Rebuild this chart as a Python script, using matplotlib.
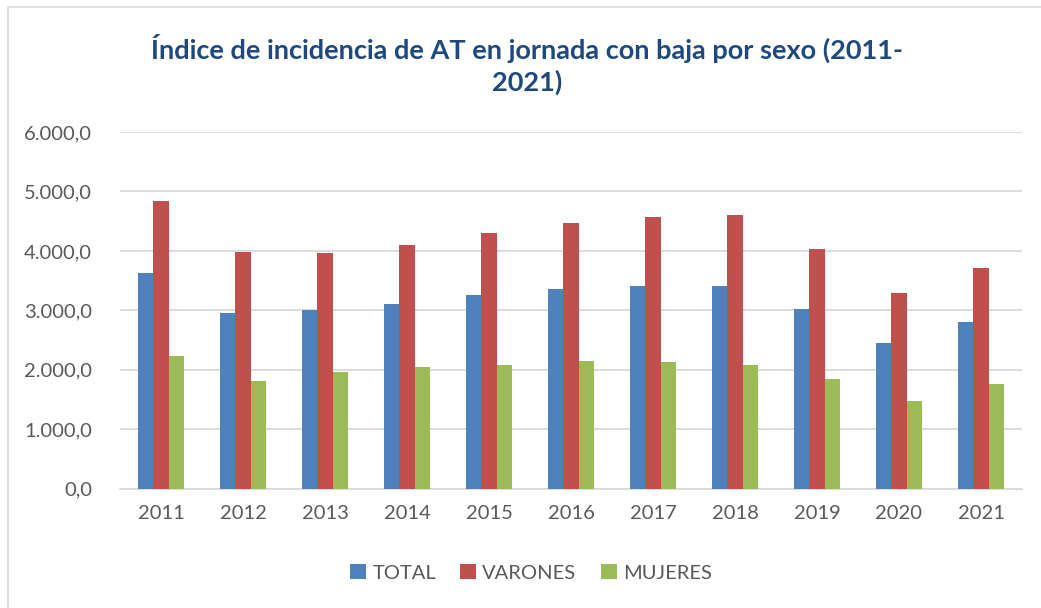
import numpy as np
import matplotlib.pyplot as plt
from matplotlib.patches import Rectangle

years = ['2011', '2012', '2013', '2014', '2015', '2016', '2017', '2018', '2019', '2020', '2021']
total = [3632, 2948, 3004, 3105, 3251, 3358, 3402, 3402, 3016, 2450, 2808]
varones = [4832, 3980, 3963, 4092, 4305, 4462, 4568, 4602, 4025, 3285, 3711]
mujeres = [2225, 1811, 1962, 2040, 2085, 2147, 2130, 2085, 1839, 1474, 1754]
yticks = [0, 1000, 2000, 3000, 4000, 5000, 6000]
ytick_labels = ['0,0', '1.000,0', '2.000,0', '3.000,0', '4.000,0', '5.000,0', '6.000,0']

plt.rcParams['font.family'] = ['Lato', 'DejaVu Sans']
grey = '#595959'

fig = plt.figure(figsize=(10.41, 6.08), dpi=100)
ax = fig.add_axes([0.1153, 0.1962, 0.8664, 0.5867])

# thin frame around the chart (top and left edges visible)
fig.patches.append(Rectangle((8 / 1041, -0.1), 1.2, 1 - 7 / 608 + 0.1,
                             transform=fig.transFigure, fill=False,
                             edgecolor='#d9d9d9', linewidth=1.2))

x = np.arange(len(years))
w = 0.19
ax.bar(x - w, total, w, color='#4F81BD', label='TOTAL', zorder=3)
ax.bar(x, varones, w, color='#C0504D', label='VARONES', zorder=3)
ax.bar(x + w, mujeres, w, color='#9BBB59', label='MUJERES', zorder=3)

ax.set_xlim(-0.5, len(years) - 0.5)
ax.set_ylim(0, 6000)
ax.set_yticks(yticks)
ax.set_yticklabels(ytick_labels)
ax.set_xticks(x)
ax.set_xticklabels(years)
ax.tick_params(axis='y', length=0, pad=20, labelsize=14.5, labelcolor=grey)
ax.tick_params(axis='x', length=0, pad=12, labelsize=14.5, labelcolor=grey)
ax.grid(axis='y', color='#d9d9d9', linewidth=1.3, zorder=0)
for s in ['top', 'right', 'left']:
    ax.spines[s].set_visible(False)
ax.spines['bottom'].set_color('#d9d9d9')
ax.spines['bottom'].set_linewidth(1.3)

fig.text(0.506, 0.894, 'Índice de incidencia de AT en jornada con baja por sexo (2011-\n2021)',
         ha='center', va='center', fontsize=19.5, fontweight='bold', color='#1F497D',
         linespacing=1.3)

fig.legend(loc='center', bbox_to_anchor=(0.51, 0.058), ncol=3, frameon=False,
           fontsize=14.5, labelcolor=grey, handlelength=0.8, handleheight=0.8,
           handletextpad=0.3, columnspacing=1.2)

fig.savefig('out.png', dpi=100)
